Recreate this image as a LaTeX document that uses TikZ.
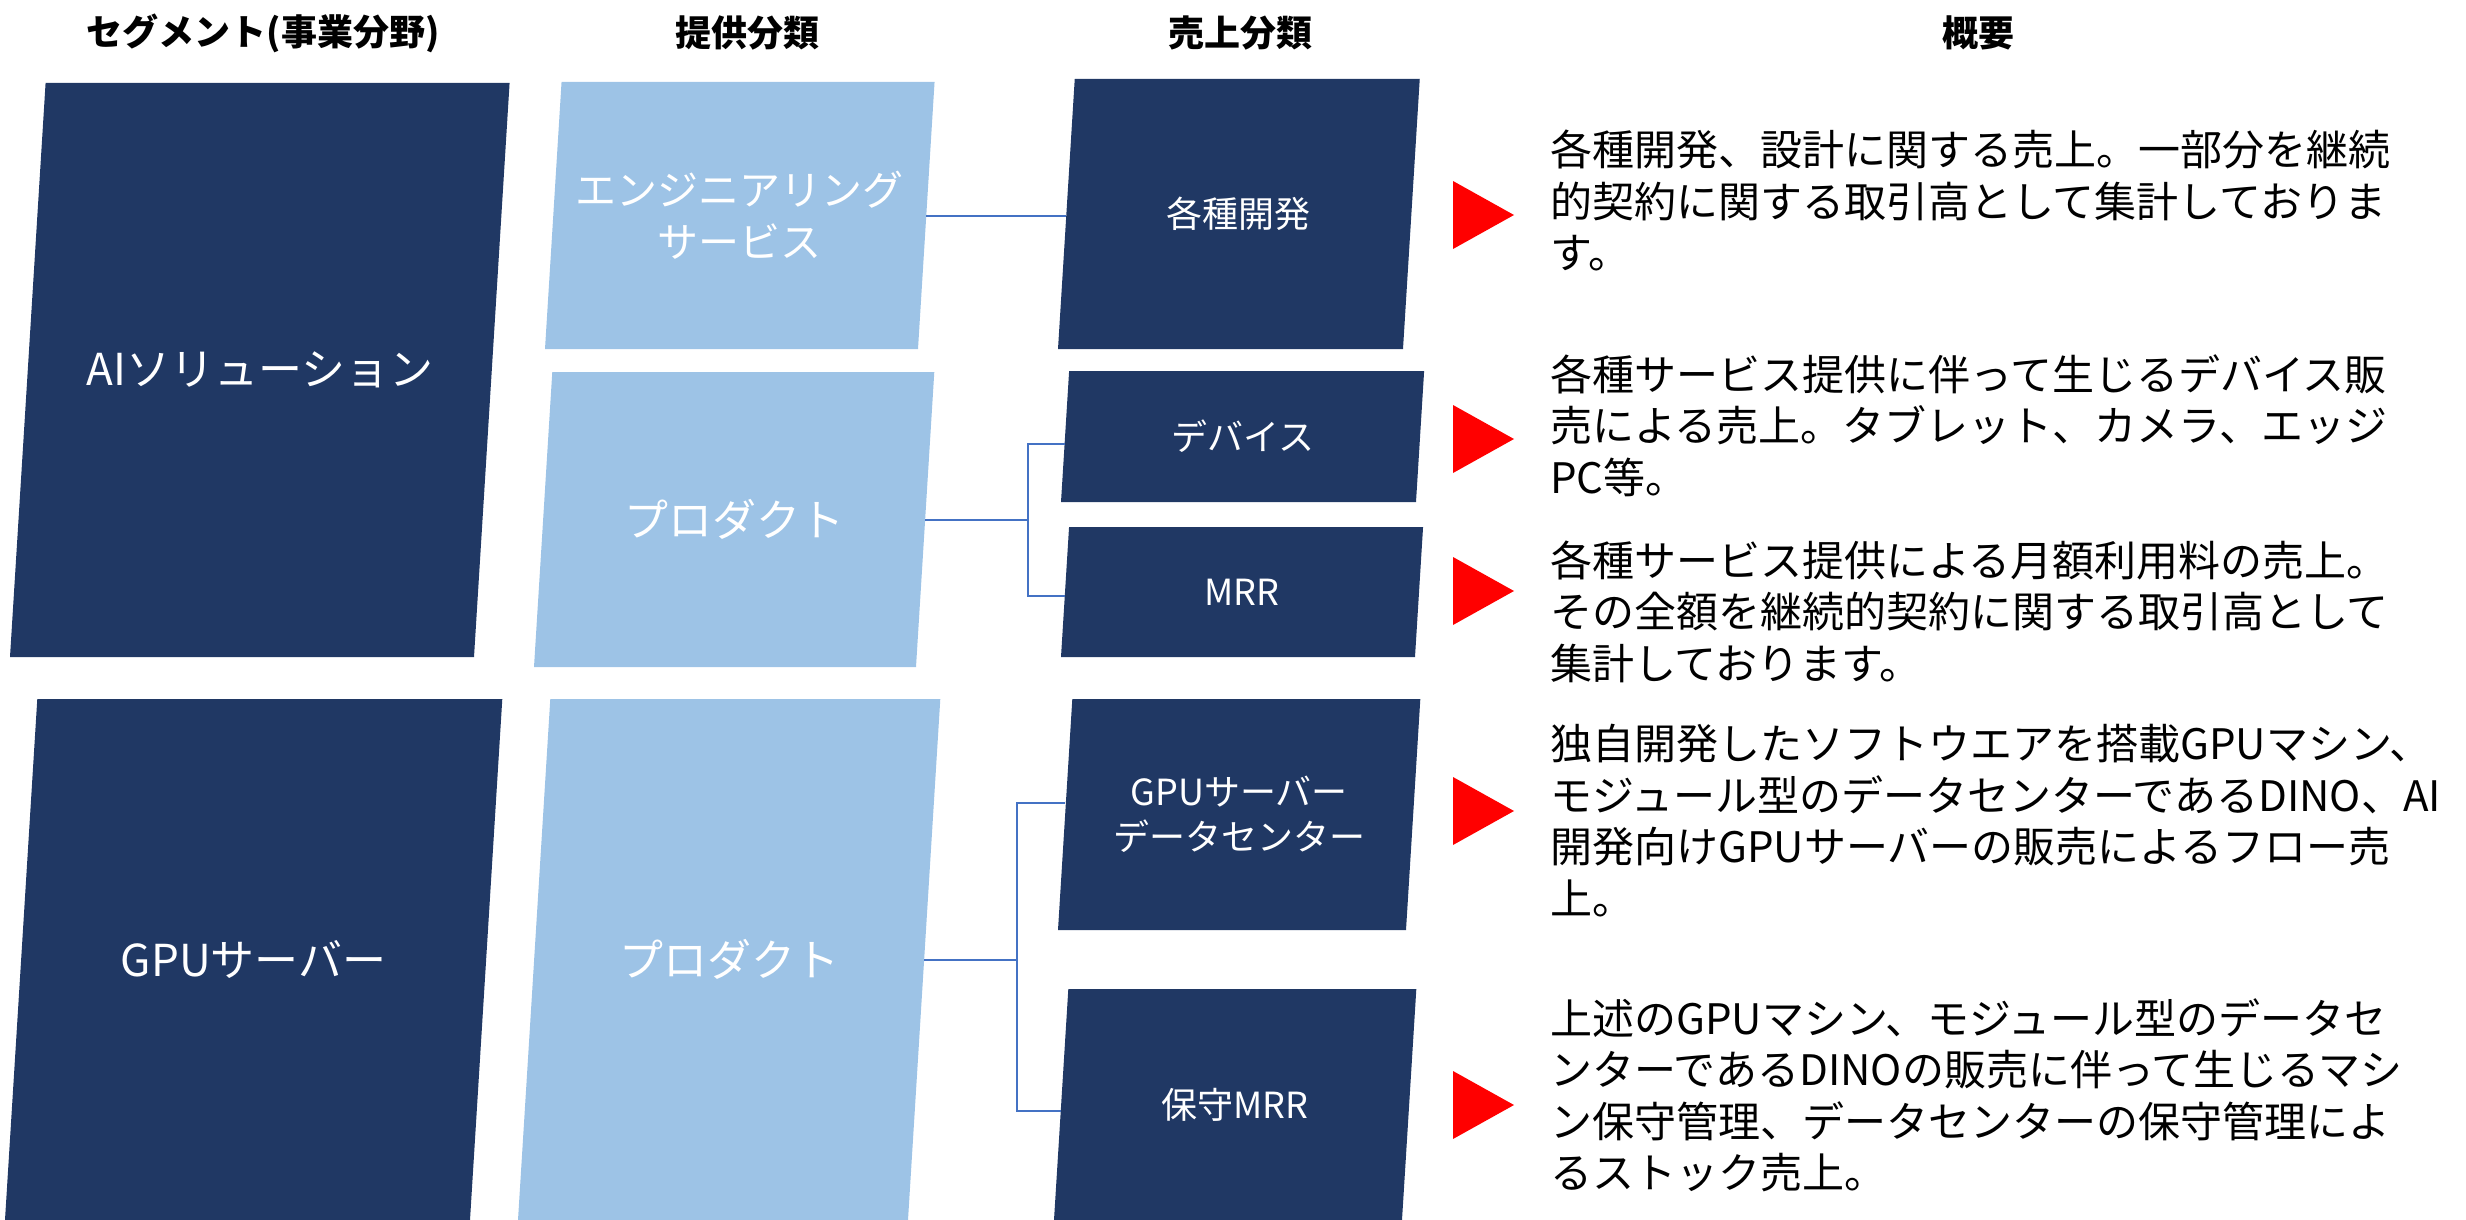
\documentclass[tikz,border=0pt]{standalone}
\usepackage{fontspec}
\setmainfont{Noto Sans CJK JP}
\usepackage{tikz}

\definecolor{navy}{HTML}{203864}
\definecolor{paleblue}{HTML}{9DC3E6}
\definecolor{linkblue}{HTML}{4472C4}

% slanted box: name, colour, font style, lower left x, top y, width, height, text
\newcommand{\slbox}[8]{%
  \pgfmathsetmacro{\slnt}{0.062*#7}
  \fill[#2] (#4+\slnt,#5) -- ++(#6,0) -- ++(-\slnt,#7) -- ++(-#6,0) -- cycle;
  \coordinate (#1-w) at (#4+\slnt/2,#5+#7/2);
  \coordinate (#1-e) at (#4+\slnt/2+#6,#5+#7/2);
  \node[boxtext,#3] (#1) at (#4+\slnt/2+#6/2,#5+#7/2) {#8};}

\begin{document}
\begin{tikzpicture}[x=1pt,y=-1pt]
  \tikzstyle{boxtext}=[text=white,align=center,inner sep=0pt]
  \tikzstyle{segfont}=[font=\fontsize{44}{53}\selectfont]
  \tikzstyle{kindfont}=[font=\fontsize{41}{52}\selectfont]
  \tikzstyle{salefont}=[font=\fontsize{36}{45}\selectfont]
  \tikzstyle{head}=[font=\bfseries\fontsize{36}{43}\selectfont]
  \tikzstyle{desc}=[anchor=west,align=left,inner sep=0pt,font=\fontsize{42}{51.5}\selectfont]
  \tikzstyle{link}=[linkblue,line width=2pt]
  \useasboundingbox (0,0) rectangle (2466,1220);

  % column headings
  \node[head] (hseg)  at (263,33)  {セグメント(事業分野)};
  \node[head] (hkind) at (747,33)  {提供分類};
  \node[head] (hsale) at (1240,33) {売上分類};
  \node[head] (hsum)  at (1978,33) {概要};

  % boxes
  \slbox{ai}{navy}{segfont}{10}{83}{464}{574}{AIソリューション}
  \slbox{gpu}{navy}{segfont}{5}{699}{465}{521}{GPUサーバー}
  \slbox{eng}{paleblue}{kindfont}{545}{82}{373}{267}{エンジニアリング\\サービス}
  \slbox{prodai}{paleblue}{segfont}{534}{372}{382}{295}{プロダクト}
  \slbox{prodgpu}{paleblue}{segfont}{518}{699}{390}{521}{プロダクト}
  \slbox{kai}{navy}{salefont}{1058}{79}{345}{270}{各種開発}
  \slbox{dev}{navy}{salefont}{1061}{371}{355}{131}{デバイス}
  \slbox{mrr}{navy}{salefont}{1061}{527}{354}{130}{MRR}
  \slbox{gpudc}{navy}{salefont}{1058}{699}{348}{231}{GPUサーバー\\データセンター}
  \slbox{hoshu}{navy}{salefont}{1054}{989}{348}{231}{保守MRR}

  % connectors
  \coordinate (fork1) at (1028,519.5);
  \coordinate (fork2) at (1017,959.5);
  \draw[link] (eng-e) -- (eng-e -| kai-w);
  \draw[link] (prodai-e) -- (fork1);
  \draw[link] ([yshift=-7pt]dev-w) -| (fork1) |- ([yshift=-4pt]mrr-w);
  \draw[link] (prodgpu-e) -- (fork2);
  \draw[link] ([yshift=12pt]gpudc-w) -| (fork2) |- ([yshift=-6pt]hoshu-w);

  % red markers
  \foreach \ty in {215,439,591,811,1105}
    \fill[red] (1453,\ty-34) -- (1514,\ty) -- (1453,\ty+34) -- cycle;

  % descriptions
  \node[desc] (d1) at (1550,200.5) {各種開発、設計に関する売上。一部分を継続\\的契約に関する取引高として集計しておりま\\す。};
  \node[desc] (d2) at (1550,425.5) {各種サービス提供に伴って生じるデバイス販\\売による売上。タブレット、カメラ、エッジ\\PC等。};
  \node[desc] (d3) at (1550,611.5) {各種サービス提供による月額利用料の売上。\\その全額を継続的契約に関する取引高として\\集計しております。};
  \node[desc] (d4) at (1550,820.5) {独自開発したソフトウエアを搭載GPUマシン、\\モジュール型のデータセンターであるDINO、AI\\開発向けGPUサーバーの販売によるフロー売\\上。};
  \node[desc] (d5) at (1550,1095.5) {上述のGPUマシン、モジュール型のデータセ\\ンターであるDINOの販売に伴って生じるマシ\\ン保守管理、データセンターの保守管理によ\\るストック売上。};
\end{tikzpicture}
\end{document}
